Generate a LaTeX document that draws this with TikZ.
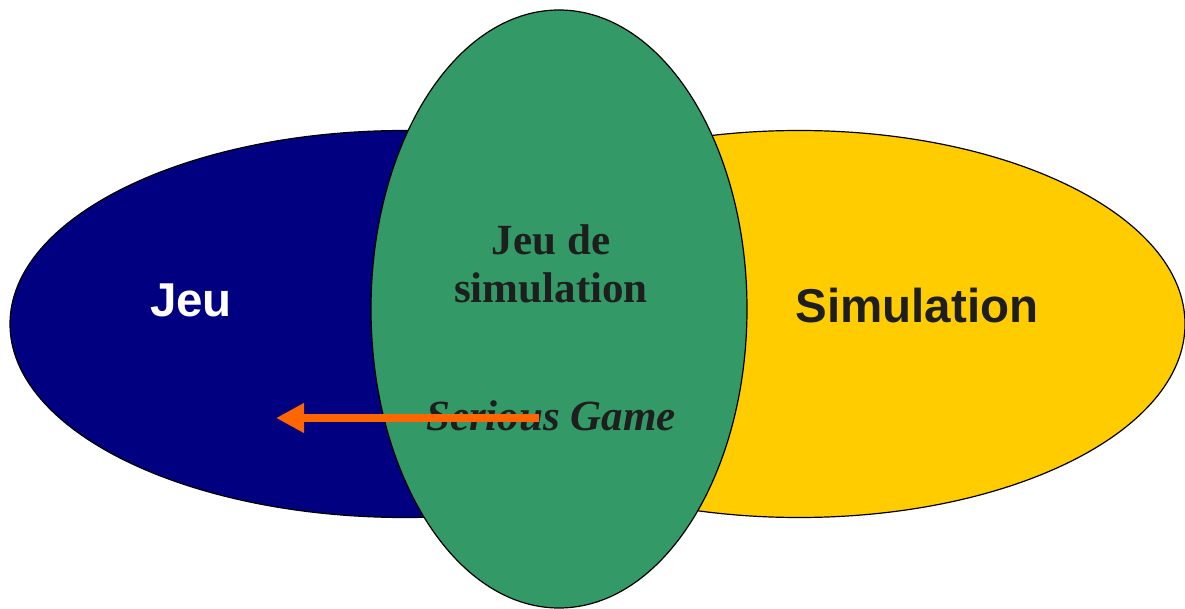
\documentclass[tikz,border=0pt]{standalone}
\usepackage{fontspec}
\setmainfont{Liberation Serif}
\newfontfamily\arialfont{Liberation Sans}
\usetikzlibrary{shapes.geometric,arrows.meta}
\definecolor{jeublue}{HTML}{000080}
\definecolor{simyellow}{HTML}{FFCC00}
\definecolor{sgreen}{HTML}{339966}
\definecolor{darktext}{HTML}{1E1E1E}
\definecolor{arroworange}{HTML}{FF6600}
\tikzset{
  blob/.style={ellipse, draw=black, line width=1.2pt, inner sep=0pt},
  sanslabel/.style={font=\arialfont\bfseries\fontsize{47.5}{52}\selectfont, inner sep=0pt},
  seriflabel/.style={font=\bfseries\fontsize{43}{48}\selectfont, text=darktext, align=center, inner sep=0pt},
  pointer/.style={draw=arroworange, line width=8pt, -{Triangle[length=28pt,width=28pt]}}
}
\begin{document}
\begin{tikzpicture}[x=1pt,y=-1pt]
\useasboundingbox (0,0) rectangle (1185,609);
\node[blob, fill=jeublue, minimum width=790pt, minimum height=387pt] (jeu) at (405,324) {};
\node[blob, fill=simyellow, minimum width=772pt, minimum height=387pt] (sim) at (799,324) {};
\node[blob, fill=sgreen, minimum width=376pt, minimum height=598pt] (jds) at (559,309) {};
\node[sanslabel, text=white] (tjeu) at (191,300) {Jeu};
\node[sanslabel, text=darktext] (tsim) at (917,306) {Simulation};
\node[seriflabel] (tjds) at (551,264) {Jeu de\\simulation};
\node[seriflabel, font=\bfseries\itshape\fontsize{43}{48}\selectfont] (tsg) at (551,416) {Serious Game};
\coordinate (astart) at (539,418);
\coordinate (aend) at (276,418);
\draw[pointer] (astart) -- (aend);
\end{tikzpicture}
\end{document}
